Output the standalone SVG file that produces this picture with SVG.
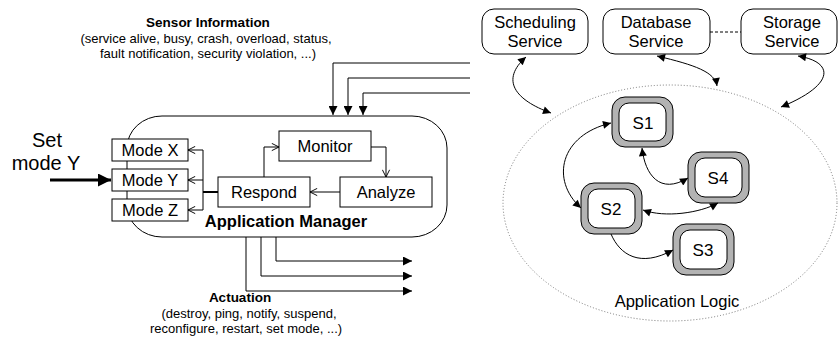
<svg xmlns="http://www.w3.org/2000/svg" width="838" height="340" viewBox="0 0 838 340">
<defs>
<style>
text{font-family:"Liberation Sans",Arial,sans-serif;fill:#000}
.t{font-size:16.5px}
.s{font-size:13px}
.b{font-size:13.5px;font-weight:bold}
.box{fill:#fff;stroke:#000;stroke-width:1}
.ln{fill:none;stroke:#000;stroke-width:1}
.dot{fill:none;stroke:#777;stroke-width:1;stroke-dasharray:1 2}
.so{fill:#b3b3b3;stroke:#000;stroke-width:1}
</style>
<marker id="tri" viewBox="0 0 10 10" refX="10" refY="5" markerUnits="userSpaceOnUse" markerWidth="12" markerHeight="9" orient="auto-start-reverse"><path d="M0,0 L10,5 L0,10 z" fill="#000"/></marker>
<marker id="tri2" viewBox="0 0 10 10" refX="10" refY="5" markerUnits="userSpaceOnUse" markerWidth="12" markerHeight="8" orient="auto-start-reverse"><path d="M0,0 L10,5 L0,10 z" fill="#000"/></marker>
<marker id="big" viewBox="0 0 10 10" refX="10" refY="5" markerUnits="userSpaceOnUse" markerWidth="18" markerHeight="13" orient="auto"><path d="M0,0 L10,5 L0,10 z" fill="#000"/></marker>
<marker id="open" viewBox="0 0 10 10" refX="10" refY="5" markerUnits="userSpaceOnUse" markerWidth="8" markerHeight="9" orient="auto"><path d="M1,0.5 L10,5 L1,9.5" fill="none" stroke="#000" stroke-width="1.2"/></marker>
</defs>

<g id="sensor-label">
<text class="b" x="208" y="27" text-anchor="middle">Sensor Information</text>
<text class="s" x="206" y="43" text-anchor="middle">(service alive, busy, crash, overload, status,</text>
<text class="s" x="208" y="58" text-anchor="middle">fault notification, security violation, ...)</text>
</g>

<g id="app-manager">
<rect class="box" x="127" y="116" width="320" height="121" rx="35" ry="32"/>
<text x="286" y="227" text-anchor="middle" style="font-size:16.5px;font-weight:bold">Application Manager</text>
</g>

<g id="set-mode-label">
<text x="47" y="147" text-anchor="middle" style="font-size:20px">Set</text>
<text x="46" y="170" text-anchor="middle" style="font-size:20px">mode Y</text>
</g>

<g id="mode-x"><rect class="box" x="112" y="139" width="76" height="22"/><text class="t" x="150" y="156" text-anchor="middle">Mode X</text></g>
<g id="mode-y"><rect class="box" x="112" y="169" width="76" height="22"/><text class="t" x="150" y="186" text-anchor="middle">Mode Y</text></g>
<g id="mode-z"><rect class="box" x="112" y="199" width="76" height="22"/><text class="t" x="150" y="216" text-anchor="middle">Mode Z</text></g>
<g id="monitor"><rect class="box" x="279" y="131" width="92" height="30"/><text class="t" x="325" y="152" text-anchor="middle">Monitor</text></g>
<g id="respond"><rect class="box" x="218" y="177" width="92" height="30"/><text class="t" x="264" y="198" text-anchor="middle">Respond</text></g>
<g id="analyze"><rect class="box" x="340" y="177" width="92" height="30"/><text class="t" x="386" y="198" text-anchor="middle">Analyze</text></g>

<g id="actuation-label">
<text class="b" x="240" y="302" text-anchor="middle">Actuation</text>
<text class="s" x="249" y="318" text-anchor="middle">(destroy, ping, notify, suspend,</text>
<text class="s" x="246" y="333" text-anchor="middle">reconfigure, restart, set mode, ...)</text>
</g>

<g id="scheduling-service"><rect class="box" x="482" y="9" width="106" height="45" rx="12"/><text class="t" x="535" y="28" text-anchor="middle">Scheduling</text><text class="t" x="535" y="47" text-anchor="middle">Service</text></g>
<g id="database-service"><rect class="box" x="603" y="9" width="107" height="45" rx="12"/><text class="t" x="656" y="28" text-anchor="middle">Database</text><text class="t" x="656" y="47" text-anchor="middle">Service</text></g>
<g id="storage-service"><rect class="box" x="741" y="9" width="96" height="45" rx="12"/><text class="t" x="792" y="28" text-anchor="middle">Storage</text><text class="t" x="792" y="47" text-anchor="middle">Service</text></g>

<g id="application-logic">
<ellipse class="dot" cx="670" cy="203" rx="167" ry="118"/>
<text x="677" y="307" text-anchor="middle" style="font-size:16.5px">Application Logic</text>
</g>

<g id="s1"><rect class="so" x="612" y="97" width="61" height="50" rx="13"/><rect class="box" x="619" y="103" width="47" height="38" rx="10"/><text x="643" y="129" text-anchor="middle" style="font-size:17px">S1</text></g>
<g id="s4"><rect class="so" x="688" y="152" width="61" height="51" rx="13"/><rect class="box" x="695" y="158" width="47" height="39" rx="10"/><text x="718" y="184" text-anchor="middle" style="font-size:17px">S4</text></g>
<g id="s2"><rect class="so" x="581" y="183" width="61" height="51" rx="13"/><rect class="box" x="588" y="189" width="47" height="39" rx="10"/><text x="611" y="215" text-anchor="middle" style="font-size:17px">S2</text></g>
<g id="s3"><rect class="so" x="673" y="224" width="61" height="51" rx="13"/><rect class="box" x="680" y="230" width="47" height="39" rx="10"/><text x="703" y="256" text-anchor="middle" style="font-size:17px">S3</text></g>

<g id="connectors">
<path class="ln" d="M470,63 H333 V115" marker-end="url(#tri)"/>
<path class="ln" d="M470,78 H348 V115" marker-end="url(#tri)"/>
<path class="ln" d="M470,93 H363 V115" marker-end="url(#tri)"/>
<path class="ln" d="M246,237 V291 H412" marker-end="url(#tri)"/>
<path class="ln" d="M261,237 V276 H412" marker-end="url(#tri)"/>
<path class="ln" d="M276,237 V261 H412" marker-end="url(#tri)"/>
<path d="M50,180 H111" fill="none" stroke="#000" stroke-width="3" marker-end="url(#big)"/>
<path class="ln" d="M203,150 V210"/>
<path class="ln" d="M203,150 H188" marker-end="url(#open)"/>
<path class="ln" d="M203,180 H188" marker-end="url(#open)"/>
<path class="ln" d="M203,210 H188" marker-end="url(#open)"/>
<path d="M203,192 H218" fill="none" stroke="#000" stroke-width="2"/>
<path class="ln" d="M264,177 V147 H279" marker-end="url(#open)"/>
<path class="ln" d="M371,147 H386 V177" marker-end="url(#open)"/>
<path class="ln" d="M340,192 H310" marker-end="url(#open)"/>
<path class="ln" d="M710,32 H741" stroke-dasharray="3 2"/>
<path class="ln" d="M526,57 C500,80 515,100 551,113" marker-start="url(#tri2)" marker-end="url(#tri2)"/>
<path class="ln" d="M657,56 C695,65 715,72 717,86" marker-start="url(#tri2)" marker-end="url(#tri2)"/>
<path class="ln" d="M798,56 C835,62 835,85 781,107" marker-start="url(#tri2)" marker-end="url(#tri2)"/>
<path class="ln" d="M611,123 C560,135 550,180 581,208" marker-start="url(#tri2)" marker-end="url(#tri2)"/>
<path class="ln" d="M642,148 C645,175 660,195 688,178" marker-start="url(#tri2)" marker-end="url(#tri2)"/>
<path class="ln" d="M643,210 C665,218 700,213 718,203" marker-start="url(#tri2)" marker-end="url(#tri2)"/>
<path class="ln" d="M611,234 C620,255 640,268 673,250" marker-end="url(#tri2)"/>
</g>
</svg>
